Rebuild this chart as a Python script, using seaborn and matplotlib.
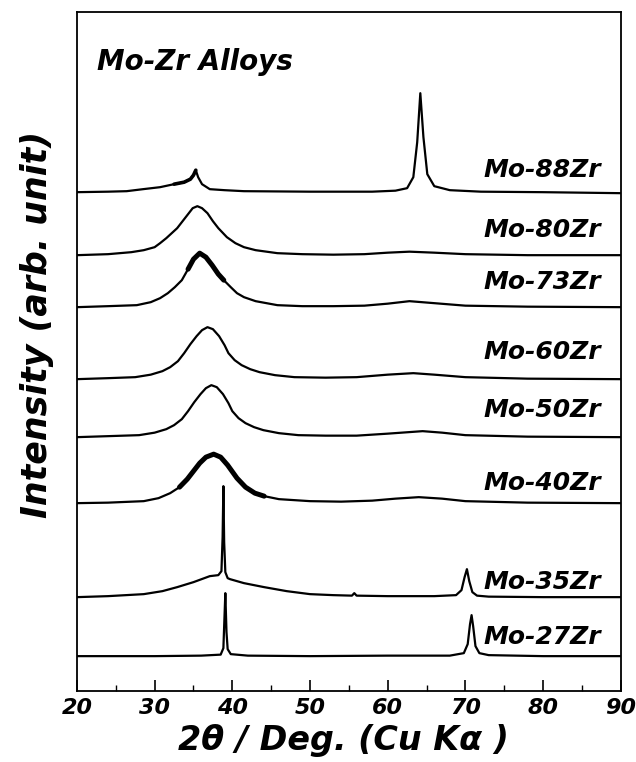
"""Stacked XRD patterns of Mo-Zr alloys."""

from __future__ import annotations

import matplotlib

matplotlib.use("Agg")

import matplotlib.pyplot as plt
import pandas as pd
import seaborn as sns
from matplotlib.ticker import MultipleLocator

# Sample names, bottom to top of the stack
SAMPLES = ["Mo-27Zr", "Mo-35Zr", "Mo-40Zr", "Mo-50Zr", "Mo-60Zr", "Mo-73Zr", "Mo-80Zr", "Mo-88Zr"]

# Vertical offset of each pattern (arb. unit)
OFFSETS = [35, 94, 188, 254, 312, 384, 436, 499]

# 2-theta points (deg) and intensities above the baseline (arb. unit)
TT_27 = [20, 30, 36, 38.5, 38.85, 38.95, 39.1, 39.25, 39.4, 39.8, 42, 50, 60, 68, 69.8, 70.3, 70.6, 70.8, 71.0, 71.3, 71.8, 73, 80, 90]
INT_27 = [0, 0, 0.5, 1.5, 8, 30, 63, 24, 7, 2, 0.5, 0, 0.5, 0.5, 3, 12, 32, 41, 30, 10, 3, 1, 0, 0]

TT_35 = [20, 24, 28.6, 31, 32.9, 35, 37.1, 38.2, 38.6, 38.75, 38.85, 38.95, 39.1, 39.4, 39.7, 41.5, 44.1, 47, 50, 53,
         55.4, 55.7, 56.0, 60, 66, 68.8, 69.5, 69.9, 70.2, 70.5, 70.9, 71.5, 73, 80, 90]
INT_35 = [0, 1, 3, 6, 10, 15, 21, 22, 26, 60, 111, 55, 25, 19, 18, 14, 10, 6, 3, 2,
          1.5, 4, 1.5, 1, 1, 2, 7, 20, 28, 16, 5, 1.5, 0.5, 0, 0]

TT_40 = [20, 24, 28.6, 30.5, 32, 33.2, 34.2, 35.0, 35.8, 36.6, 37.6, 38.5, 39.4, 40.6, 41.7, 42.9, 44.1, 46, 50, 54,
         58, 61, 64, 67, 70, 78, 90]
INT_40 = [0, 0.5, 2, 5, 10, 16, 24, 32, 40, 46, 49, 46, 38, 25, 16, 10, 7, 4, 2, 1.5,
          2.5, 4.5, 6, 4.5, 2, 0.5, 0]

TT_50 = [20, 24, 28, 30, 31.5, 32.5, 33.5, 34.3, 35.1, 35.9, 36.6, 37.3, 38.0, 38.8, 39.5, 40.0, 40.8, 41.7, 42.8, 44,
         46, 48.5, 52, 56, 60, 64.5, 67, 70, 78, 90]
INT_50 = [0, 1, 2, 4.5, 8, 12, 18, 26, 35, 43, 49, 52, 50, 43, 34, 26, 19, 14, 10, 7,
          4, 2, 1.5, 1.5, 3.5, 6, 4.5, 2, 0.5, 0]

TT_60 = [20, 24, 27.5, 29.5, 31, 32, 33, 33.8, 34.6, 35.4, 36.1, 36.8, 37.5, 38.3, 39.0, 39.5, 40.3, 41.2, 42.3, 43.5,
         45.5, 48, 52, 56, 60, 63.3, 66, 70, 78, 90]
INT_60 = [0, 1, 2, 4.5, 8, 12, 18, 26, 35, 43, 49, 52, 50, 43, 34, 26, 19, 14, 10, 7,
          4, 2, 1.5, 2, 4.5, 6, 4.5, 2, 0.5, 0]

TT_73 = [20, 24, 27.7, 29.5, 30.7, 31.7, 32.6, 33.5, 34.3, 35.0, 35.8, 36.6, 37.4, 38.2, 38.9, 39.8, 40.6, 41.5, 43, 45.8,
         49, 53, 57, 60, 62.8, 66, 70, 78, 90]
INT_73 = [0, 1, 2, 5, 9, 14, 20, 27, 38, 48, 54, 50, 42, 33, 27, 20, 14, 10, 6, 2,
          1, 1, 1.5, 3.5, 6, 4, 1.5, 0.5, 0]

TT_80 = [20, 24, 27, 28.6, 30, 30.7, 31.5, 32.2, 32.9, 33.6, 34.3, 34.9, 35.5, 36.1, 36.8, 37.5, 38.2, 39.3, 40.4, 41.5,
         43, 45.8, 49, 53, 57, 60, 62.8, 66, 70, 78, 90]
INT_80 = [0, 1, 3, 5, 8, 12, 17, 22, 27, 34, 41, 47, 49, 47, 42, 34, 27, 18, 12, 8,
          5, 2, 1, 0.5, 1, 2.5, 3.5, 2.5, 1, 0, 0]

TT_88 = [20, 24, 26.4, 28.5, 30.7, 32.5, 33.8, 34.6, 35.0, 35.3, 35.6, 36.1, 37.1, 39, 41.5, 50, 58, 61, 62.5, 63.3,
         63.8, 64.2, 64.6, 65.1, 66, 68, 72, 80, 90]
INT_88 = [0, 0.5, 1, 3, 5, 8, 10, 13, 17, 22, 15, 8, 3, 2, 1, 0.5, 0.5, 1.5, 4, 15,
          50, 99, 55, 18, 6, 2, 0.5, 0, -1]

PATTERNS = {
    "Mo-27Zr": (TT_27, INT_27),
    "Mo-35Zr": (TT_35, INT_35),
    "Mo-40Zr": (TT_40, INT_40),
    "Mo-50Zr": (TT_50, INT_50),
    "Mo-60Zr": (TT_60, INT_60),
    "Mo-73Zr": (TT_73, INT_73),
    "Mo-80Zr": (TT_80, INT_80),
    "Mo-88Zr": (TT_88, INT_88),
}

# Layout: label anchor (right edge, 2-theta) and height for each sample
LABEL_X = 87.5
LABEL_Y = [54, 109, 208, 281, 339, 409, 461, 521]

# Patterns whose peak region looks noisy (thick) in the original scan
NOISY_RANGE = {"Mo-73Zr": (33.8, 39.5), "Mo-40Zr": (33.2, 44.1), "Mo-88Zr": (32.5, 35.3)}

FONT = ["DejaVu Sans"]


def build_frame() -> pd.DataFrame:
    """Collect all patterns in one long table with the stacking offset applied."""
    frames = []
    for name, offset in zip(SAMPLES, OFFSETS):
        two_theta, intensity = PATTERNS[name]
        frames.append(
            pd.DataFrame(
                {
                    "two_theta": two_theta,
                    "intensity": [value + offset for value in intensity],
                    "sample": name,
                }
            )
        )
    return pd.concat(frames, ignore_index=True)


def plot_patterns(data: pd.DataFrame) -> None:
    """Draw the stacked patterns and save the figure."""
    sns.set_style("ticks")
    plt.rcParams["font.family"] = FONT
    plt.rcParams["xtick.color"] = "black"
    plt.rcParams["xtick.labelcolor"] = "black"

    fig = plt.figure(figsize=(6.36, 7.62), dpi=100)
    ax = fig.add_axes([0.121, 0.093, 0.855, 0.891])

    for name in SAMPLES:
        subset = data[data["sample"] == name]
        sns.lineplot(
            data=subset,
            x="two_theta",
            y="intensity",
            color="black",
            linewidth=1.6,
            sort=False,
            estimator=None,
            ax=ax,
        )
        if name in NOISY_RANGE:
            low, high = NOISY_RANGE[name]
            noisy = subset[(subset["two_theta"] >= low) & (subset["two_theta"] <= high)]
            width = 2.6 if name == "Mo-88Zr" else 3.6
            ax.plot(noisy["two_theta"], noisy["intensity"], color="black", linewidth=width, solid_capstyle="round")

    text_style = {"family": FONT, "weight": "bold", "style": "italic", "color": "black"}
    for name, y in zip(SAMPLES, LABEL_Y):
        ax.text(LABEL_X, y, name, ha="right", va="center", fontsize=18, **text_style)

    ax.text(22.6, 629, "Mo-Zr Alloys", ha="left", va="center", fontsize=20, **text_style)

    ax.set_xlim(20, 90)
    ax.set_ylim(0, 679)
    ax.set_yticks([])
    ax.xaxis.set_major_locator(MultipleLocator(10))
    ax.xaxis.set_minor_locator(MultipleLocator(5))
    ax.tick_params(axis="x", which="major", direction="in", length=8, width=1.2, pad=5, labelsize=16)
    ax.tick_params(axis="x", which="minor", direction="in", length=4, width=1.0)
    for label in ax.get_xticklabels():
        label.set_fontweight("bold")
        label.set_fontstyle("italic")
        label.set_color("black")

    for spine in ax.spines.values():
        spine.set_visible(True)
        spine.set_linewidth(1.3)
        spine.set_color("black")

    ax.set_xlabel("2θ / Deg. (Cu Kα )", fontsize=24, va="center", **text_style)
    ax.xaxis.set_label_coords(0.49, -0.072)
    ax.set_ylabel("Intensity (arb. unit)", fontsize=25, va="center", **text_style)
    ax.yaxis.set_label_coords(-0.074, 0.54)

    fig.savefig("out.png", dpi=100)
    plt.close(fig)


def main() -> None:
    """Entry point."""
    plot_patterns(build_frame())


if __name__ == "__main__":
    main()
